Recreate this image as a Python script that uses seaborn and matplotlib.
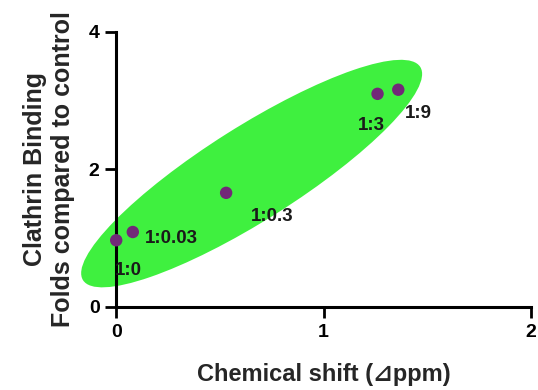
import numpy as np
import pandas as pd
import matplotlib
matplotlib.use("Agg")
import matplotlib.pyplot as plt
import seaborn as sns
from matplotlib.patches import Ellipse
from matplotlib.transforms import ScaledTranslation

# data
ratios = ["1:0", "1:0.03", "1:0.3", "1:3", "1:9"]
shift = [0.0, 0.08, 0.53, 1.26, 1.36]
binding = [0.97, 1.09, 1.66, 3.10, 3.16]
label_offsets = [(-1, -22), (9, -5), (18, -17), (-14, -23), (5, -17)]
x_ticks = [0, 1, 2]
y_ticks = [0, 2, 4]

df = pd.DataFrame({"ratio": ratios, "shift": shift, "binding": binding})

sns.set_style("white")
plt.rcParams["font.family"] = ["Liberation Sans", "DejaVu Sans"]
plt.rcParams["font.weight"] = "bold"

fig = plt.figure(figsize=(5.38, 3.90), dpi=100)
ax = fig.add_axes([0.216, 0.213, 0.771, 0.705])

ax.set_xlim(0, 2)
ax.set_ylim(0, 4)

# green ellipse, sized in inches around a center given in data units
trans = fig.dpi_scale_trans + ScaledTranslation(0.653, 1.94, ax.transData)
ell = Ellipse((0, 0), 3.99, 0.94, angle=32.3, transform=trans,
              facecolor="#3ff03f", edgecolor="none", zorder=1, clip_on=False)
ax.add_patch(ell)

sns.scatterplot(data=df, x="shift", y="binding", ax=ax, s=80,
                color="#722878", edgecolor="none", zorder=3, clip_on=False)

for r, x, y, off in zip(ratios, shift, binding, label_offsets):
    ax.annotate(r, (x, y), xytext=off, textcoords="offset points",
                fontsize=13.5, fontweight="bold", color="#1a1a1a",
                va="center", ha="left", zorder=4)

ax.set_xticks(x_ticks)
ax.set_yticks(y_ticks)
ax.tick_params(direction="out", length=8, width=2, labelsize=14,
               left=True, bottom=True, colors="black", pad=4)
for lab in ax.get_xticklabels() + ax.get_yticklabels():
    lab.set_fontweight("bold")

sns.despine(ax=ax)
for sp in ["left", "bottom"]:
    ax.spines[sp].set_linewidth(2.2)
    ax.spines[sp].set_color("black")
    ax.spines[sp].set_zorder(2)

ax.set_xlabel("Chemical shift (⊿ppm)", fontsize=17, fontweight="bold",
              labelpad=16)
ax.set_ylabel("Clathrin Binding\nFolds compared to control", fontsize=18,
              fontweight="bold", labelpad=10, linespacing=1.2)

fig.savefig("out.png", dpi=100)
